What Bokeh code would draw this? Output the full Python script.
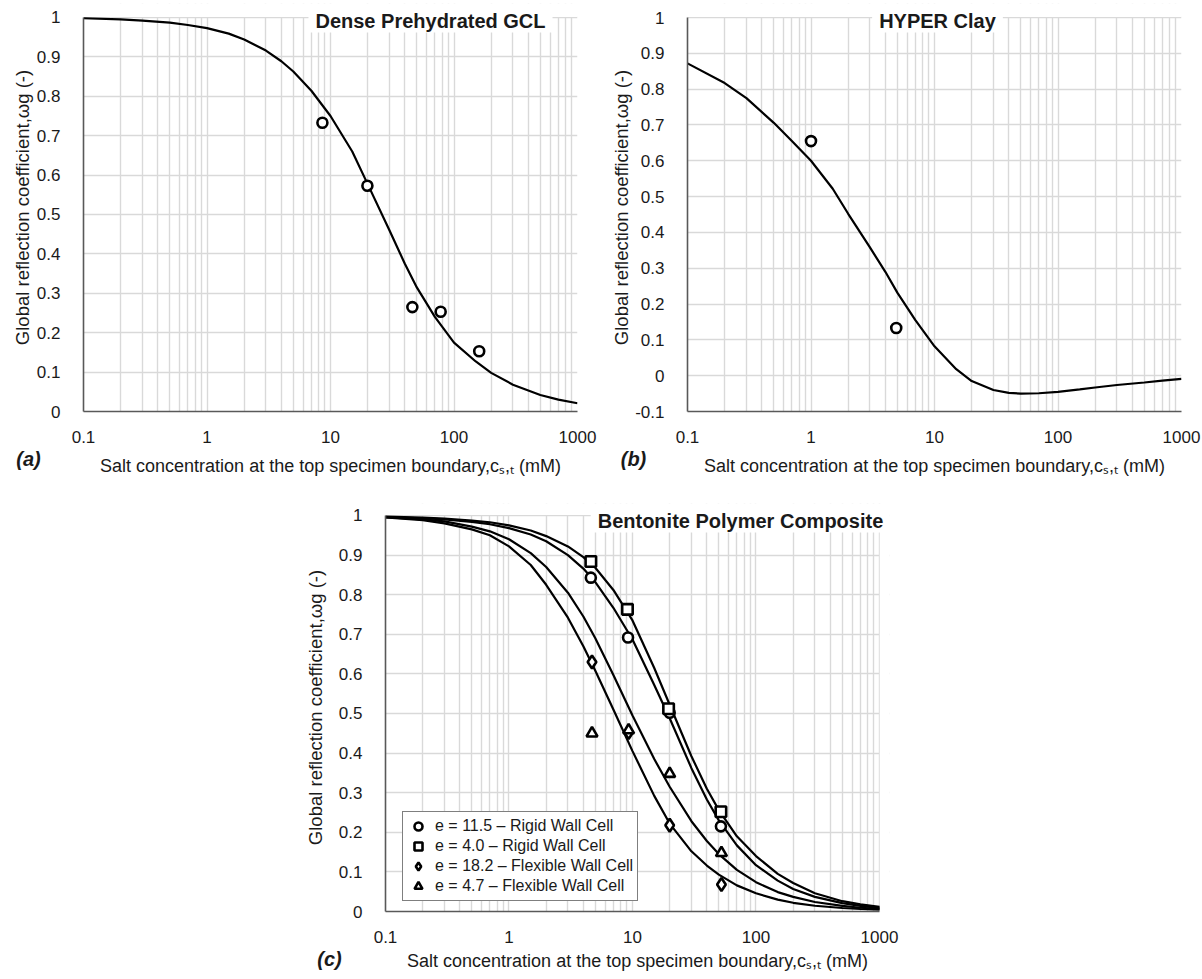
from bokeh.plotting import figure
from bokeh.models import Range1d, FixedTicker, Label, Legend, LegendItem, BoxAnnotation
from bokeh.layouts import column, row
from bokeh.embed import file_html
from bokeh.resources import INLINE

SANS = "'Liberation Sans', Arial, sans-serif"
TXT = "#1a1a1a"
GRID = "#d9d9d9"

# ---------------- data ----------------
X_TICKS = [0.1, 1, 10, 100, 1000]
X_TICK_LABELS = ["0.1", "1", "10", "100", "1000"]
X_MINOR_MULT = [2, 3, 4, 5, 6, 7, 8, 9]
X_DECADES = [0.1, 1, 10, 100]

Y_TICKS_01 = [0, 0.1, 0.2, 0.3, 0.4, 0.5, 0.6, 0.7, 0.8, 0.9, 1]
Y_LABELS_01 = ["0", "0.1", "0.2", "0.3", "0.4", "0.5", "0.6", "0.7", "0.8", "0.9", "1"]
Y_TICKS_B = [-0.1, 0, 0.1, 0.2, 0.3, 0.4, 0.5, 0.6, 0.7, 0.8, 0.9, 1]
Y_LABELS_B = ["-0.1", "0", "0.1", "0.2", "0.3", "0.4", "0.5", "0.6", "0.7", "0.8", "0.9", "1"]

CURVE_X = [0.1, 0.2, 0.3, 0.5, 0.7, 1, 1.5, 2, 3, 4, 5, 7, 10, 15, 20, 30, 40, 50,
           70, 100, 150, 200, 300, 500, 700, 1000]

# (a) Dense Prehydrated GCL
GCL_CURVE = [0.998, 0.995, 0.992, 0.987, 0.981, 0.973, 0.959, 0.944, 0.916, 0.889, 0.863,
             0.814, 0.750, 0.660, 0.577, 0.460, 0.375, 0.315, 0.240, 0.175, 0.127, 0.098,
             0.068, 0.042, 0.030, 0.021]
GCL_PTS_X = [8.6, 19.9, 46, 78, 160]
GCL_PTS_Y = [0.733, 0.573, 0.265, 0.253, 0.153]

# (b) HYPER Clay
HYPER_CURVE = [0.872, 0.817, 0.775, 0.706, 0.655, 0.600, 0.522, 0.452, 0.358, 0.290, 0.232,
               0.155, 0.082, 0.018, -0.015, -0.040, -0.048, -0.050, -0.049, -0.045, -0.038,
               -0.033, -0.026, -0.019, -0.014, -0.009]
HYPER_PTS_X = [1.0, 4.9]
HYPER_PTS_Y = [0.655, 0.133]

# (c) Bentonite Polymer Composite
BPC_CURVE_E40 = [0.997, 0.995, 0.992, 0.987, 0.983, 0.975, 0.962, 0.948, 0.922, 0.895, 0.868,
                 0.812, 0.735, 0.615, 0.522, 0.392, 0.310, 0.256, 0.190, 0.140, 0.095, 0.072,
                 0.046, 0.026, 0.018, 0.012]
BPC_CURVE_E115 = [0.996, 0.993, 0.990, 0.984, 0.978, 0.968, 0.952, 0.935, 0.900, 0.866, 0.832,
                  0.767, 0.687, 0.572, 0.488, 0.362, 0.283, 0.230, 0.167, 0.117, 0.078, 0.057,
                  0.037, 0.021, 0.014, 0.009]
BPC_CURVE_E47 = [0.996, 0.990, 0.985, 0.972, 0.960, 0.940, 0.905, 0.870, 0.805, 0.745, 0.690,
                 0.597, 0.495, 0.385, 0.315, 0.228, 0.178, 0.145, 0.105, 0.074, 0.049, 0.037,
                 0.024, 0.014, 0.0095, 0.0065]
BPC_CURVE_E182 = [0.995, 0.988, 0.980, 0.965, 0.950, 0.922, 0.875, 0.825, 0.742, 0.670, 0.608,
                  0.510, 0.405, 0.292, 0.222, 0.152, 0.116, 0.093, 0.066, 0.046, 0.030, 0.022,
                  0.0145, 0.0088, 0.0063, 0.0045]

BPC_E115_X = [4.6, 9.2, 20, 52]
BPC_E115_Y = [0.843, 0.692, 0.502, 0.215]
BPC_E40_X = [4.6, 9.1, 19.6, 52]
BPC_E40_Y = [0.884, 0.763, 0.512, 0.252]
BPC_E182_X = [4.7, 9.3, 20, 52.5]
BPC_E182_Y = [0.630, 0.452, 0.218, 0.068]
BPC_E47_X = [4.7, 9.3, 20, 52.5]
BPC_E47_Y = [0.450, 0.458, 0.348, 0.148]

LEGEND_LABELS = ["e = 11.5 \u2013 Rigid Wall Cell", "e = 4.0 \u2013 Rigid Wall Cell",
                 "e = 18.2 \u2013 Flexible Wall Cell", "e = 4.7 \u2013 Flexible Wall Cell"]
TITLES = ["Dense Prehydrated GCL", "HYPER Clay", "Bentonite Polymer Composite"]
TAGS = ["(a)", "(b)", "(c)"]
X_LABEL = "Salt concentration at the top specimen boundary,c\u209b,\u209c (mM)"
Y_LABEL = "Global reflection coefficient,\u03c9g (-)"


def lab(text, x, y, size="20px", style="normal", align="left", baseline="alphabetic", **kw):
    return Label(x=x, y=y, x_units="screen", y_units="screen", text=text,
                 text_font=SANS, text_font_size=size, text_font_style=style,
                 text_align=align, text_baseline=baseline, text_color=TXT, **kw)


def make_fig(xr, yr, y_lo, yt, yl, fw, fh, left, right, top, bottom, ylab_standoff,
             xlab_standoff):
    p = figure(x_axis_type="log", x_range=Range1d(*xr), y_range=Range1d(*yr),
               width=left + fw + right, height=top + fh + bottom,
               frame_width=fw, frame_height=fh,
               min_border_left=left, min_border_right=right,
               min_border_top=top, min_border_bottom=bottom,
               output_backend="svg", toolbar_location=None,
               background_fill_color="white", border_fill_color="white")
    p.outline_line_color = None
    minor = [m * d for d in X_DECADES for m in X_MINOR_MULT]
    xt = FixedTicker(ticks=X_TICKS, minor_ticks=minor)
    ytk = FixedTicker(ticks=yt)
    p.xaxis.ticker = xt
    p.xgrid.ticker = xt
    p.yaxis.ticker = ytk
    p.ygrid.ticker = ytk
    p.xaxis.major_label_overrides = dict(zip(X_TICKS, X_TICK_LABELS))
    p.yaxis.major_label_overrides = dict(zip(yt, yl))
    p.xaxis.bounds = (X_TICKS[0], X_TICKS[-1])
    p.yaxis.bounds = (y_lo, 1)
    for ax in (p.xaxis[0], p.yaxis[0]):
        ax.major_tick_line_color = None
        ax.minor_tick_line_color = None
        ax.axis_line_color = "#595959"
        ax.axis_line_width = 1.6
        ax.major_label_text_font = SANS
        ax.major_label_text_font_size = "17px"
        ax.major_label_text_color = TXT
        ax.axis_label_text_font = SANS
        ax.axis_label_text_font_style = "normal"
        ax.axis_label_text_color = TXT
    p.xaxis.major_label_standoff = 13
    p.yaxis.major_label_standoff = 17
    p.xaxis.axis_label = X_LABEL
    p.xaxis.axis_label_text_font_size = "18px"
    p.xaxis.axis_label_standoff = xlab_standoff
    p.yaxis.axis_label = Y_LABEL
    p.yaxis.axis_label_text_font_size = "18.5px"
    p.yaxis.axis_label_standoff = ylab_standoff
    p.xgrid.grid_line_color = GRID
    p.xgrid.grid_line_width = 1.4
    p.xgrid.minor_grid_line_color = GRID
    p.xgrid.minor_grid_line_width = 1.4
    p.ygrid.grid_line_color = GRID
    p.ygrid.grid_line_width = 1.4
    # blank out the grid outside the data window (space for the panel title)
    p.add_layout(BoxAnnotation(bottom=1.0015, fill_color="white", fill_alpha=1,
                               line_alpha=0, level="underlay"))
    return p


MK = dict(fill_color="white", line_color="black", line_width=2.6)
LW = 2.2

# ---- (a)
pa = make_fig((0.1, 1000), (0, 1.0355), 0, Y_TICKS_01, Y_LABELS_01,
              494, 408, 83, 25, 3, 91, 1, 10)
pa.line(CURVE_X, GCL_CURVE, line_color="black", line_width=LW)
pa.scatter(GCL_PTS_X, GCL_PTS_Y, marker="circle", size=10, **MK)
pa.add_layout(lab(TITLES[0], 347, 391, style="bold", align="center", baseline="middle",
                  background_fill_color="white", padding=(7, 1)))
pa.add_layout(lab(TAGS[0], -55, 42, style="bold italic", align="center"), "below")

# ---- (b)
pb = make_fig((0.1, 1000), (-0.1, 1.0391), -0.1, Y_TICKS_B, Y_LABELS_B,
              494, 408, 85, 21, 3, 91, 0, 10)
pb.line(CURVE_X, HYPER_CURVE, line_color="black", line_width=LW)
pb.scatter(HYPER_PTS_X, HYPER_PTS_Y, marker="circle", size=10, **MK)
pb.add_layout(lab(TITLES[1], 250, 391, style="bold", align="center", baseline="middle",
                  background_fill_color="white", padding=(7, 1)))
pb.add_layout(lab(TAGS[1], -54, 42, style="bold italic", align="center"), "below")

# ---- (c)
pc = make_fig((0.1, 1205), (0, 1.0303), 0, Y_TICKS_01, Y_LABELS_01,
              504, 408, 385, 20, 1, 66, 10, 5)
pc.add_layout(BoxAnnotation(left=1004, fill_color="white", fill_alpha=1,
                            line_alpha=0, level="underlay"))
for cy in (BPC_CURVE_E40, BPC_CURVE_E115, BPC_CURVE_E47, BPC_CURVE_E182):
    pc.line(CURVE_X, cy, line_color="black", line_width=LW)
r1 = pc.scatter(BPC_E115_X, BPC_E115_Y, marker="circle", size=10, **MK)
r2 = pc.scatter(BPC_E40_X, BPC_E40_Y, marker="square", size=10.5, **MK)
r3 = pc.scatter(BPC_E182_X, BPC_E182_Y, marker="diamond", size=13, **MK)
r4 = pc.scatter(BPC_E47_X, BPC_E47_Y, marker="triangle", size=11, **MK)
pc.add_layout(lab(TITLES[2], 355, 391, style="bold", align="center", baseline="middle",
                  background_fill_color="white", padding=(7, 1)))
pc.add_layout(lab(TAGS[2], 52, -47, style="bold italic", align="center"), "left")

leg = Legend(items=[LegendItem(label=t, renderers=[r]) for t, r in
                    zip(LEGEND_LABELS, (r1, r2, r3, r4))],
             location=(17, 10))
leg.border_line_color = "black"
leg.border_line_width = 1.2
leg.background_fill_color = "white"
leg.background_fill_alpha = 1
leg.label_text_font = SANS
leg.label_text_font_size = "16px"
leg.label_text_color = TXT
leg.padding = 4
leg.spacing = 0
leg.margin = 0
leg.glyph_width = 22
leg.glyph_height = 20
leg.label_height = 18
leg.label_standoff = 6
pc.add_layout(leg)

layout = column(row(pa, pb), pc)
open("out.html", "w").write(file_html(layout, INLINE))
